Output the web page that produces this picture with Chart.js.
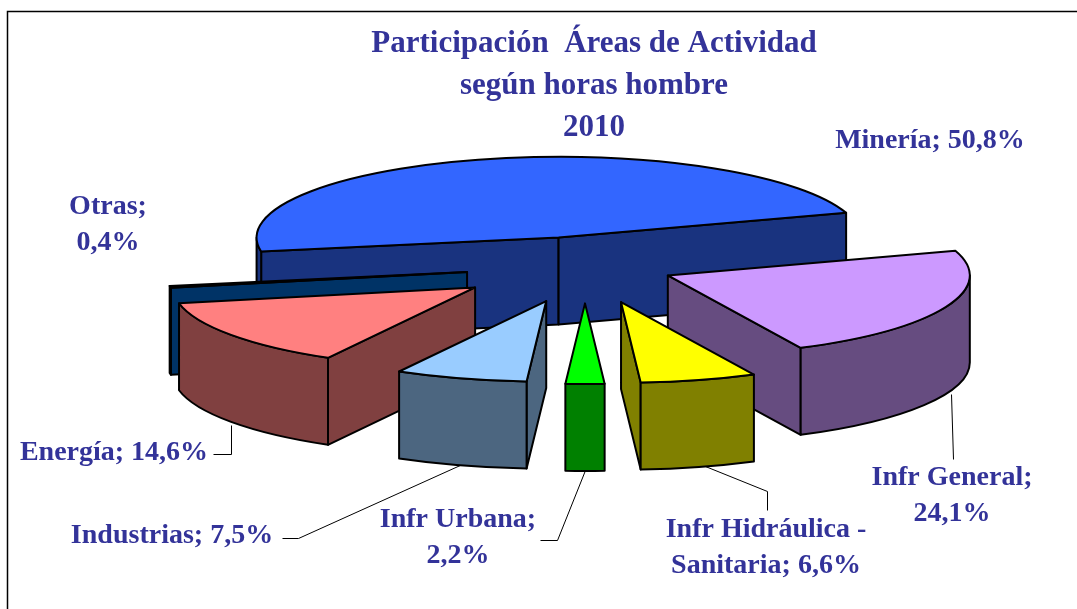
<!DOCTYPE html>
<html>
<head>
<meta charset="utf-8">
<style>html,body{margin:0;padding:0;background:#fff}canvas{display:block}</style>
<script src="https://cdn.jsdelivr.net/npm/chart.js@4/dist/chart.umd.min.js"></script>
</head>
<body>
<canvas id="c" width="1077" height="609"></canvas>
<script>
const titleLines = ['Participación  Áreas de Actividad', 'según horas hombre', '2010'];
const categories = ['Minería', 'Infr General', 'Infr Hidráulica - Sanitaria', 'Infr Urbana', 'Industrias', 'Energía', 'Otras'];
const values = [50.8, 24.1, 6.6, 2.2, 7.5, 14.6, 0.4];
const topColors = ['#3366FF', '#CC99FF', '#FFFF00', '#00FF00', '#99CCFF', '#FF8080', '#003366'];
const wallColors = ['#19337F', '#664C80', '#808000', '#008000', '#4C6680', '#804040', '#003366'];
const explode = [110, 90, 140, 140, 137, 136, 120];

const SQUASH = 0.267, DEPTH = 87, INK = '#333399', FONT = 'bold 28px "Liberation Serif"';
const labelLayout = [
  {x: 930, y: 141},
  {x: 952, y: 478, wrap: '; ', lead: [[953, 459], [951, 394]]},
  {x: 766, y: 530, wrap: '- ', lead: [[767, 510], [767, 491], [700, 464]]},
  {x: 458, y: 520, wrap: '; ', lead: [[540, 540], [557, 540], [585, 470]]},
  {x: 172, y: 536, lead: [[282, 538], [298, 538], [462, 464]]},
  {x: 114, y: 453, lead: [[213, 454], [231, 454], [231, 425]]},
  {x: 108, y: 207, wrap: '; '}
];
const LINE = 36;

const pie3d = {
  id: 'pie3d',
  afterLayout(chart) { chart.titleBlock.left = 111; },
  beforeDatasetsDraw(chart) {
    const ctx = chart.ctx;
    const arcs = chart.getDatasetMeta(0).data.map((el, i) => {
      const a0 = el.startAngle, a1 = el.endAngle, mid = (a0 + a1) / 2, d = el.options.offset;
      return {i, a0, a1, mid, r: el.outerRadius, cx: el.x + d * Math.cos(mid), cy: el.y + SQUASH * d * Math.sin(mid)};
    }).sort((p, q) => Math.sin(p.mid) - Math.sin(q.mid));

    // frame
    ctx.save();
    ctx.strokeStyle = '#000'; ctx.lineWidth = 1.5;
    ctx.beginPath(); ctx.moveTo(7.5, 609); ctx.lineTo(7.5, 11.5); ctx.lineTo(1077, 11.5); ctx.stroke();
    ctx.restore();

    // leader lines sit under the slices
    ctx.save();
    ctx.strokeStyle = '#000'; ctx.lineWidth = 1;
    labelLayout.forEach(l => {
      if (!l.lead) return;
      ctx.beginPath();
      l.lead.forEach((p, n) => n ? ctx.lineTo(p[0] + .5, p[1] + .5) : ctx.moveTo(p[0] + .5, p[1] + .5));
      ctx.stroke();
    });
    ctx.restore();

    ctx.save();
    ctx.lineWidth = 2; ctx.strokeStyle = '#000'; ctx.lineJoin = 'round';
    arcs.forEach(s => {
      const ry = s.r * SQUASH;
      const px = a => s.cx + s.r * Math.cos(a), py = a => s.cy + ry * Math.sin(a);
      ctx.fillStyle = wallColors[s.i];
      // radial faces, only those turned towards the viewer
      const faces = [];
      if (Math.cos(s.a0) < 0) faces.push(s.a0);
      if (Math.cos(s.a1) > 0) faces.push(s.a1);
      faces.forEach(a => {
        ctx.beginPath();
        ctx.moveTo(s.cx, s.cy); ctx.lineTo(px(a), py(a));
        ctx.lineTo(px(a), py(a) + DEPTH); ctx.lineTo(s.cx, s.cy + DEPTH);
        ctx.closePath(); ctx.fill(); ctx.stroke();
      });
      // rim wall: only where the rim faces the viewer
      for (let k = -1; k <= 1; k++) {
        const lo = Math.max(s.a0, 2 * Math.PI * k), hi = Math.min(s.a1, 2 * Math.PI * k + Math.PI);
        if (hi <= lo) continue;
        ctx.beginPath();
        ctx.ellipse(s.cx, s.cy, s.r, ry, 0, lo, hi, false);
        ctx.ellipse(s.cx, s.cy + DEPTH, s.r, ry, 0, hi, lo, true);
        ctx.closePath(); ctx.fill(); ctx.stroke();
      }
      // top face
      ctx.fillStyle = topColors[s.i];
      ctx.beginPath();
      ctx.moveTo(s.cx, s.cy);
      ctx.ellipse(s.cx, s.cy, s.r, ry, 0, s.a0, s.a1, false);
      ctx.closePath(); ctx.fill(); ctx.stroke();
    });
    ctx.restore();

    // data labels
    ctx.save();
    ctx.fillStyle = INK; ctx.font = FONT; ctx.textAlign = 'center'; ctx.textBaseline = 'middle';
    labelLayout.forEach((l, i) => {
      const text = categories[i] + '; ' + String(values[i]).replace('.', ',') + '%';
      let lines = [text];
      if (l.wrap) {
        const at = text.indexOf(l.wrap) + l.wrap.length;
        lines = [text.slice(0, at).trim(), text.slice(at)];
      }
      lines.forEach((t, n) => ctx.fillText(t, l.x, l.y + n * LINE));
    });
    ctx.restore();
    return false;
  }
};

new Chart(document.getElementById('c'), {
  type: 'pie',
  plugins: [pie3d],
  data: {
    labels: categories,
    datasets: [{data: values, backgroundColor: topColors, borderWidth: 0, offset: explode}]
  },
  options: {
    responsive: false,
    animation: false,
    radius: 302,
    rotation: -100,
    layout: {padding: {left: 93, top: 0, right: 0, bottom: 226}},
    plugins: {
      legend: {display: false},
      tooltip: {enabled: false},
      title: {
        display: true,
        text: titleLines,
        color: INK,
        font: {family: '"Liberation Serif"', size: 31, weight: 'bold', lineHeight: 42 / 31},
        padding: {top: 23, bottom: 0}
      }
    }
  }
});
</script>
</body>
</html>
